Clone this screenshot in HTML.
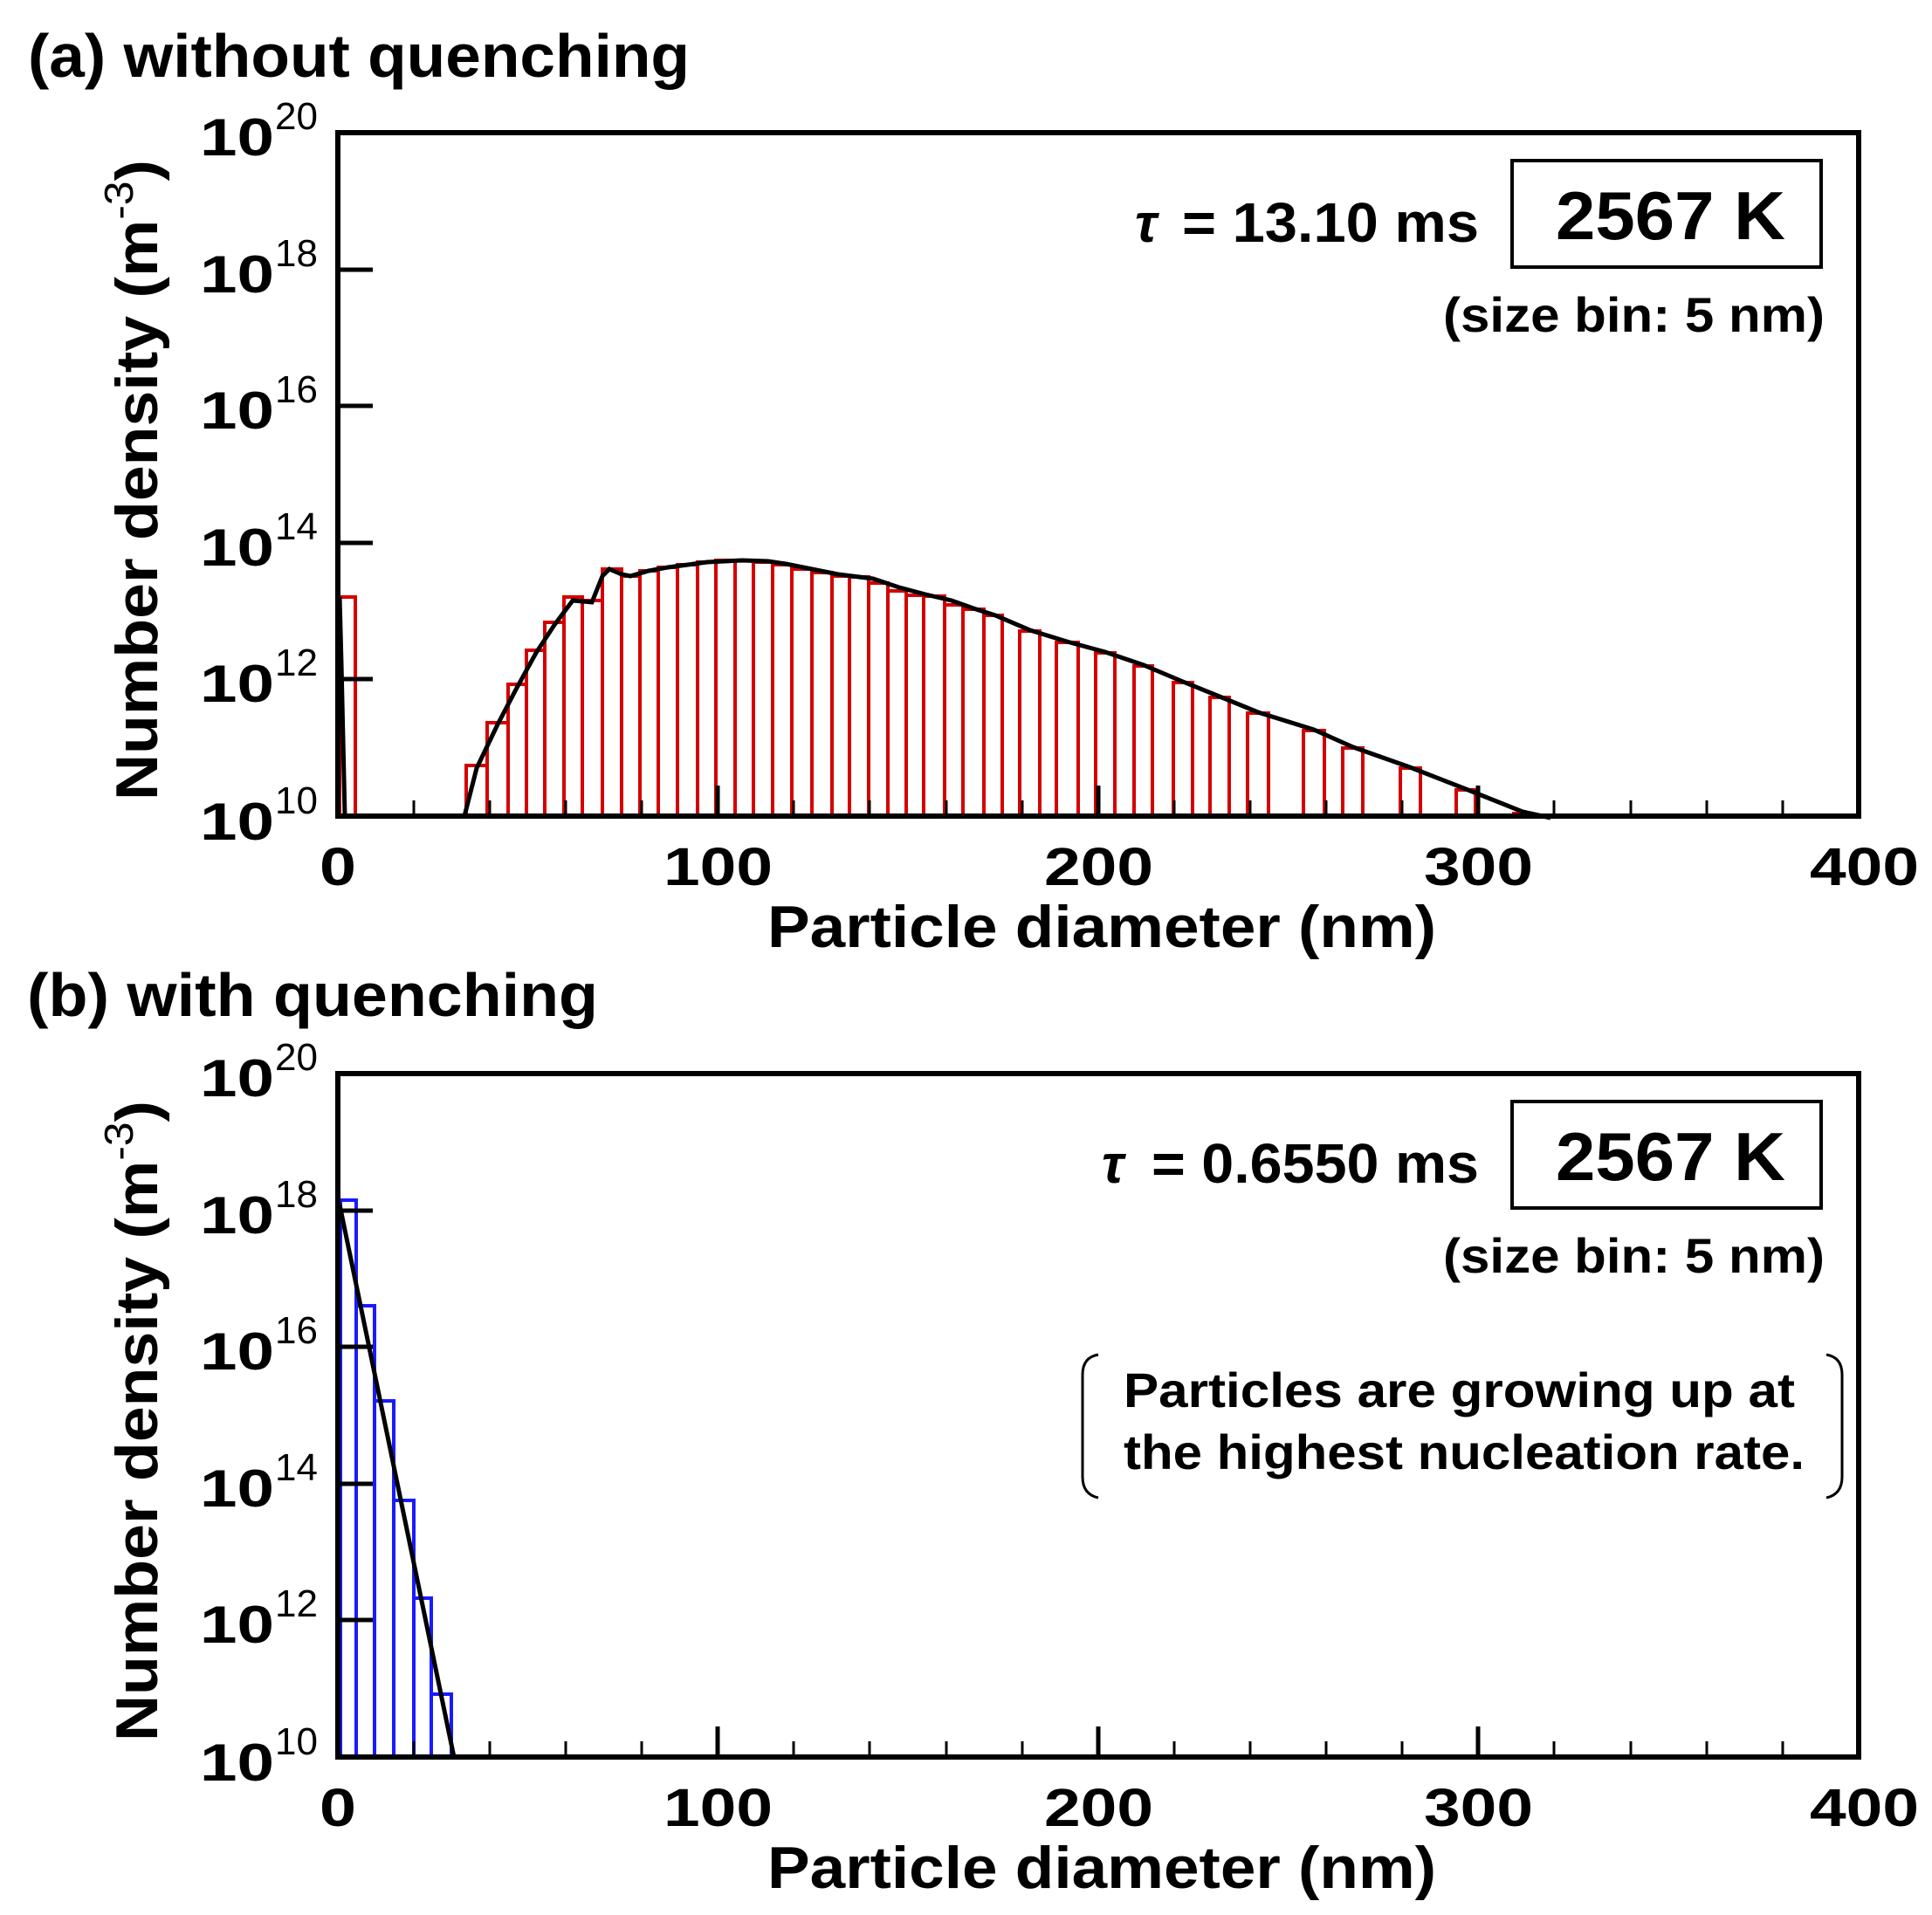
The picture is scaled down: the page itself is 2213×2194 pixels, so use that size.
<!DOCTYPE html>
<html><head><meta charset="utf-8"><style>
html,body{margin:0;padding:0;background:#fff;}
svg{display:block;}
text{font-family:"Liberation Sans",Arial,sans-serif;font-weight:bold;fill:#000;}
.sup{font-weight:normal;font-size:44px;}
</style></head><body>
<svg width="2213" height="2194" viewBox="0 0 2213 2194" xmlns="http://www.w3.org/2000/svg">
<defs>
<g id="axes">
  <g stroke="#000" stroke-width="5">
    <line x1="387" y1="309" x2="427" y2="309"/>
    <line x1="387" y1="465" x2="427" y2="465"/>
    <line x1="387" y1="622" x2="427" y2="622"/>
    <line x1="387" y1="778" x2="427" y2="778"/>
  </g>
  <g stroke="#000" stroke-width="3">
    <line x1="474" y1="935" x2="474" y2="917"/>
    <line x1="561" y1="935" x2="561" y2="917"/>
    <line x1="648" y1="935" x2="648" y2="917"/>
    <line x1="735" y1="935" x2="735" y2="917"/>
    <line x1="909" y1="935" x2="909" y2="917"/>
    <line x1="996" y1="935" x2="996" y2="917"/>
    <line x1="1084" y1="935" x2="1084" y2="917"/>
    <line x1="1171" y1="935" x2="1171" y2="917"/>
    <line x1="1345" y1="935" x2="1345" y2="917"/>
    <line x1="1432" y1="935" x2="1432" y2="917"/>
    <line x1="1519" y1="935" x2="1519" y2="917"/>
    <line x1="1606" y1="935" x2="1606" y2="917"/>
    <line x1="1780" y1="935" x2="1780" y2="917"/>
    <line x1="1868" y1="935" x2="1868" y2="917"/>
    <line x1="1955" y1="935" x2="1955" y2="917"/>
    <line x1="2042" y1="935" x2="2042" y2="917"/>
  </g>
  <g stroke="#000" stroke-width="5">
    <line x1="822" y1="935" x2="822" y2="900"/>
    <line x1="1258" y1="935" x2="1258" y2="900"/>
    <line x1="1693" y1="935" x2="1693" y2="900"/>
  </g>
  <rect x="387" y="152" width="1742" height="783" fill="none" stroke="#000" stroke-width="6"/>
  <g font-size="60">
    <text x="229" y="178" textLength="85" lengthAdjust="spacingAndGlyphs">10</text>
    <text x="229" y="335" textLength="85" lengthAdjust="spacingAndGlyphs">10</text>
    <text x="229" y="491" textLength="85" lengthAdjust="spacingAndGlyphs">10</text>
    <text x="229" y="648" textLength="85" lengthAdjust="spacingAndGlyphs">10</text>
    <text x="229" y="804" textLength="85" lengthAdjust="spacingAndGlyphs">10</text>
    <text x="229" y="962" textLength="85" lengthAdjust="spacingAndGlyphs">10</text>
  </g>
  <g>
    <text class="sup" x="315" y="148">20</text>
    <text class="sup" x="315" y="305">18</text>
    <text class="sup" x="315" y="461">16</text>
    <text class="sup" x="315" y="618">14</text>
    <text class="sup" x="315" y="774">12</text>
    <text class="sup" x="315" y="932">10</text>
  </g>
  <g font-size="61">
    <text x="366" y="1014" textLength="42" lengthAdjust="spacingAndGlyphs">0</text>
    <text x="760" y="1014" textLength="125" lengthAdjust="spacingAndGlyphs">100</text>
    <text x="1196" y="1014" textLength="125" lengthAdjust="spacingAndGlyphs">200</text>
    <text x="1631" y="1014" textLength="125" lengthAdjust="spacingAndGlyphs">300</text>
    <text x="2073" y="1014" textLength="125" lengthAdjust="spacingAndGlyphs">400</text>
  </g>
  <text x="879" y="1085" font-size="68" textLength="766" lengthAdjust="spacingAndGlyphs">Particle diameter (nm)</text>
  <text transform="translate(180,917) rotate(-90)" font-size="68" textLength="734" lengthAdjust="spacingAndGlyphs">Number density (m<tspan dy="-28" font-size="46" font-weight="normal">-3</tspan><tspan dy="28">)</tspan></text>
  <rect x="1732" y="184" width="354" height="122" fill="none" stroke="#000" stroke-width="4"/>
  <text x="1782" y="274" font-size="78" textLength="263" lengthAdjust="spacingAndGlyphs">2567 K</text>
  <text x="1653" y="380" font-size="56" textLength="437" lengthAdjust="spacingAndGlyphs">(size bin: 5 nm)</text>
</g>
</defs>

<text x="32" y="88" font-size="70" textLength="758" lengthAdjust="spacingAndGlyphs">(a) without quenching</text>
<g fill="none" stroke="#d40000" stroke-width="4">
<path d="M389 935V684H407V935
M534 935V877H558V935M558 935V828H582V935M582 935V784H603V935M603 935V745H624V935M624 935V713H646V935
M646 935V684H667V935M667 935V688H690V935M690 935V652H712V935M712 935V660H733V935M733 935V654H754V935
M754 935V650H776V935M776 935V647H799V935M799 935V644H820V935M820 935V642H842V935M842 935V642H863V935
M863 935V644H885V935M885 935V647H907V935M907 935V652H930V935M930 935V656H953V935M953 935V660H973V935
M973 935V661H995V935M995 935V668H1017V935M1017 935V677H1038V935M1038 935V682H1058V935M1058 935V683H1082V935
M1082 935V693H1103V935M1103 935V698H1127V935M1127 935V705H1148V935
M1168 935V723H1191V935M1210 935V736H1235V935M1255 935V748H1277V935M1299 935V763H1320V935
M1344 935V782H1366V935M1386 935V799H1408V935M1429 935V817H1453V935M1493 935V837H1517V935
M1538 935V857H1561V935M1604 935V880H1627V935M1668 935V905H1690V935M1734 935V932H1755V935"/>
</g>
<polyline fill="none" stroke="#000" stroke-width="5" points="389,684 391,760 395,935"/>
<polyline fill="none" stroke="#000" stroke-width="5" points="532,935 546,880 570,830 592,788 614,748 635,716 656,688 678,690 690,660 698,652 712,658 722,660 743,654 765,650 788,647 810,644 850,642 880,643 900,646 930,652 960,658 1000,663 1030,673 1060,681 1090,688 1115,697 1140,705 1180,722 1222,735 1266,747 1310,762 1355,781 1397,798 1441,816 1505,836 1550,856 1615,879 1679,904 1744,930 1776,937"/>
<use href="#axes"/>
<text x="1354" y="277" font-size="64" textLength="340" lengthAdjust="spacingAndGlyphs">= 13.10 ms</text>
<text x="1300" y="277" font-size="62" font-style="italic" font-weight="normal" font-family="Liberation Serif,serif">τ</text>

<text x="31" y="1164" font-size="70" textLength="654" lengthAdjust="spacingAndGlyphs">(b) with quenching</text>
<g fill="none" stroke="#1a1aff" stroke-width="4">
<path d="M390 2013V1375H408V2013M408 2013V1496H429V2013M429 2013V1605H451V2013M451 2013V1719H474V2013M474 2013V1831H494V2013M494 2013V1941H517V2013"/>
</g>
<polyline fill="none" stroke="#000" stroke-width="5" points="389,1380 520,2013"/>
<g transform="translate(0,1078)"><use href="#axes"/></g>
<text x="1319" y="1355" font-size="64" textLength="375" lengthAdjust="spacingAndGlyphs">= 0.6550 ms</text>
<text x="1262" y="1355" font-size="62" font-style="italic" font-weight="normal" font-family="Liberation Serif,serif">τ</text>
<text x="1287" y="1612" font-size="56" textLength="769" lengthAdjust="spacingAndGlyphs">Particles are growing up at</text>
<text x="1287" y="1683" font-size="56" textLength="780" lengthAdjust="spacingAndGlyphs">the highest nucleation rate.</text>
<path d="M1258 1552 Q1240 1555 1240 1575 V1692 Q1240 1712 1258 1716" fill="none" stroke="#000" stroke-width="3"/>
<path d="M2092 1552 Q2110 1555 2110 1575 V1692 Q2110 1712 2092 1716" fill="none" stroke="#000" stroke-width="3"/>
</svg>
</body></html>
